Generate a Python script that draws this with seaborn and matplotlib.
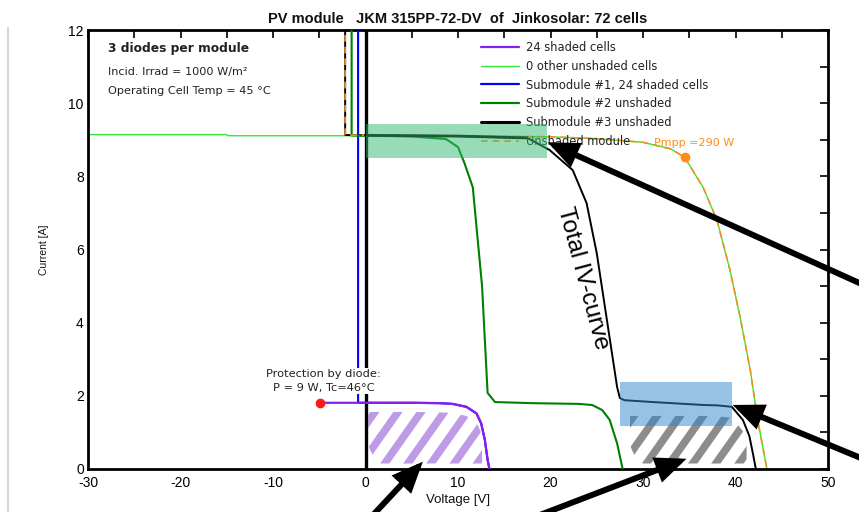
import numpy as np
import pandas as pd
import matplotlib
matplotlib.use("Agg")
import matplotlib.pyplot as plt
import seaborn as sns
from matplotlib.lines import Line2D
from matplotlib import font_manager

# ---------------- data ----------------
title = "PV module   JKM 315PP-72-DV  of  Jinkosolar: 72 cells"

# 24 shaded cells (purple)
shaded_v = [-4.9, 0, 5, 8, 9.4, 10.9, 12.0, 12.5, 12.9, 13.2, 13.4]
shaded_i = [1.81, 1.81, 1.81, 1.80, 1.78, 1.70, 1.52, 1.25, 0.80, 0.25, 0.0]

# 0 other unshaded cells (light green)
other_v = [-30, -15, -14.9, 0, 10, 20, 25, 30, 33, 34.5, 36.5, 38, 39.4, 40.5, 41.6, 42.4, 43.4]
other_i = [9.14, 9.14, 9.11, 9.11, 9.11, 9.08, 9.03, 8.93, 8.75, 8.52, 7.70, 6.80, 5.44, 4.15, 2.70, 1.34, 0.0]

# Submodule #1, 24 shaded cells (blue)
sub1_v = [-0.8, -0.8, 0, 5, 8, 9.4, 10.9, 12.0, 12.5, 12.9, 13.2, 13.4]
sub1_i = [12.5, 1.81, 1.81, 1.81, 1.80, 1.78, 1.70, 1.52, 1.25, 0.80, 0.25, 0.0]

# Submodule #2 unshaded (green)
sub2_v = [-1.5, -1.5, 0, 5, 8.7, 10.0, 10.7, 11.6, 12.6, 13.2, 14.0, 18, 23.0, 24.5, 25.6, 26.4, 27.2, 27.8]
sub2_i = [12.5, 9.12, 9.11, 9.09, 9.02, 8.80, 8.36, 7.70, 5.00, 2.08, 1.83, 1.80, 1.78, 1.75, 1.61, 1.34, 0.70, 0.0]

# Submodule #3 unshaded (black, thick)
sub3_v = [0, 5, 10, 17.4]
sub3_i = [9.12, 9.11, 9.10, 9.05]

# Unshaded module (orange)
unsh_v = [-2.2, -2.2, 0, 10, 20, 25, 30, 33, 34.5, 36.5, 38, 39.4, 40.5, 41.6, 42.4, 43.4]
unsh_i = [12.5, 9.13, 9.12, 9.11, 9.08, 9.03, 8.93, 8.75, 8.52, 7.70, 6.80, 5.44, 4.15, 2.70, 1.34, 0.0]

# Total IV-curve (black, thin)
total_v = [-2.2, -2.2, 0, 10, 17.5, 19.9, 22.4, 23.9, 25.0, 26.1, 27.2, 27.5, 28.0, 31.1, 36.5, 38.0, 39.6, 40.8, 41.5, 41.9, 42.2]
total_i = [12.5, 9.13, 9.12, 9.10, 9.05, 8.72, 8.17, 7.27, 5.90, 4.07, 2.24, 1.94, 1.88, 1.83, 1.75, 1.74, 1.70, 1.34, 0.90, 0.40, 0.0]

pmpp_v, pmpp_i, pmpp_w = 34.5, 8.52, 290
diode_v, diode_i = -4.9, 1.81

# highlighted boxes (V range, I range)
green_box_v, green_box_i = [0.0, 19.6], [8.5, 9.43]
blue_box_v, blue_box_i = [27.5, 39.6], [1.17, 2.38]

# hatched power areas (V range, top cap)
purple_area_v, purple_area_top = [0.3, 12.6], 1.6
gray_area_v, gray_area_top = [28.6, 41.2], 1.45

x_ticks = [-30, -20, -10, 0, 10, 20, 30, 40, 50]
y_ticks = [0, 2, 4, 6, 8, 10, 12]

# ---------------- style ----------------
sns.set_theme(style="white")
avail = {f.name for f in font_manager.fontManager.ttflist}
narrow = "Liberation Sans Narrow" if "Liberation Sans Narrow" in avail else "Liberation Sans"
plt.rcParams["font.family"] = ["DejaVu Sans"]

fig = plt.figure(figsize=(8.59, 5.12), dpi=100)
ax = fig.add_axes([88 / 859, 43 / 512, 740 / 859, 439 / 512])

def series(v, i):
    return pd.DataFrame({"V": v, "I": i})

def draw(v, i, color, lw, z, **kw):
    sns.lineplot(data=series(v, i), x="V", y="I", sort=False, estimator=None,
                 color=color, lw=lw, ax=ax, zorder=z, **kw)

# zero axis line
ax.axvline(0, color="black", lw=2.4, zorder=3)

draw(other_v, other_i, "#35E835", 1.0, 2)
draw(total_v, total_i, "black", 1.4, 3)
draw(unsh_v, unsh_i, "#FF8C1A", 1.2, 3.5, dashes=(4, 3))
draw(sub1_v, sub1_i, "#0000FF", 1.5, 3)
draw(sub2_v, sub2_i, "#008000", 1.5, 3)
draw(sub3_v, sub3_i, "black", 2.0, 3.6)
draw(shaded_v, shaded_i, "#8A1EF0", 1.6, 4)

ax.plot([diode_v], [diode_i], "o", color="#FF1A1A", ms=6, zorder=5)
ax.plot([pmpp_v], [pmpp_i], "o", color="#FF8C1A", ms=6, zorder=5)

# hatched areas
def hatch(vrange, top, curve_v, curve_i, offset, color):
    vg = np.linspace(vrange[0], vrange[1], 80)
    hi = np.minimum(np.interp(vg, curve_v, curve_i) - offset, top)
    lo = 0.15 + 0.5 * np.clip(1 - (vg - vrange[0]) / 1.5, 0, 1) ** 2
    poly = ax.fill_between(vg, lo, hi, facecolor="none", edgecolor="none")
    path = poly.get_paths()[0]
    dx = 6.7
    for x0 in np.arange(vrange[0] - dx, vrange[1] + 1, 2.5):
        ln, = ax.plot([x0, x0 + dx], [-0.2, 2.2], color=color, lw=5.5,
                      solid_capstyle="butt", zorder=2.5)
        ln.set_clip_path(path, ax.transData)

hatch(purple_area_v, purple_area_top, shaded_v, shaded_i, 0.25, "#BE9BE6")
hatch(gray_area_v, gray_area_top, total_v, total_i, 0.3, "#8C8C8C")

# boxes
ax.fill_between(green_box_v, green_box_i[0], green_box_i[1], color="#33BB70",
                alpha=0.5, lw=0, zorder=6)
ax.fill_between(blue_box_v, blue_box_i[0], blue_box_i[1], color="#2D87CD",
                alpha=0.5, lw=0, zorder=6)

# legend
handles = [
    Line2D([], [], color="#8A1EF0", lw=1.6),
    Line2D([], [], color="#35E835", lw=1.0),
    Line2D([], [], color="#0000FF", lw=1.6),
    Line2D([], [], color="#008000", lw=1.6),
    Line2D([], [], color="black", lw=2.2),
    Line2D([], [], color="#FF8C1A", lw=1.2, dashes=(4, 3)),
]
labels = ["24 shaded cells", "0 other unshaded cells", "Submodule #1, 24 shaded cells",
          "Submodule #2 unshaded", "Submodule #3 unshaded", "Unshaded module"]
leg = ax.legend(handles, labels, loc="upper left", bbox_to_anchor=(0.531, 0.975),
                frameon=False, fontsize=8.3, handlelength=3.3, handletextpad=0.6,
                labelspacing=0.5, borderaxespad=0, borderpad=0)
for t in leg.get_texts():
    t.set_color("#222222")
leg.set_zorder(4)

# texts
ax.text(0.027, 0.958, "3 diodes per module", transform=ax.transAxes, fontsize=8.8,
        fontweight="bold", va="center", color="#222222")
ax.text(0.027, 0.905, "Incid. Irrad = 1000 W/m²", transform=ax.transAxes, fontsize=8.1,
        va="center", color="#222222")
ax.text(0.027, 0.862, "Operating Cell Temp = 45 °C", transform=ax.transAxes, fontsize=8.1,
        va="center", color="#222222")
ax.text(-4.5, 2.41, "Protection by diode:\nP = 9 W, Tc=46°C", ha="center", va="center",
        fontsize=8.2, color="#222222", linespacing=1.45,
        bbox=dict(facecolor="white", edgecolor="none", pad=1.0), zorder=4.5)
ax.text(pmpp_v - 3.3, pmpp_i + 0.38, f"Pmpp ={pmpp_w} W", color="#FF8C1A", fontsize=8.0,
        va="center", ha="left")
ax.text(23.5, 5.22, "Total IV-curve", rotation=-75, ha="center", va="center",
        fontsize=17.5, family="Liberation Sans", color="black", rotation_mode="anchor")

# arrows
ap = dict(arrowstyle="-|>,head_length=0.75,head_width=0.32", lw=4.3, color="black",
          shrinkA=0, shrinkB=0, mutation_scale=20, joinstyle="miter")
for tip, tail in [((19.7, 8.93), (1.01, 0.44)), ((39.7, 1.75), (1.01, 0.10)),
                  ((34.7, 0.28), (0.622, -0.01)), ((6.2, 0.2), (0.432, -0.01))]:
    ax.annotate("", xy=tip, xycoords="data", xytext=tail, textcoords="figure fraction",
                arrowprops=ap, annotation_clip=False, zorder=7)

# axes
ax.set_xlim(-30, 50)
ax.set_ylim(0, 12)
ax.set_xticks(x_ticks)
ax.set_xticks(np.arange(-25, 50, 10), minor=True)
ax.set_yticks(y_ticks)
ax.set_yticks(np.arange(1, 12, 2), minor=True)
ax.set_xticklabels([str(t) for t in x_ticks], family=narrow, fontsize=10)
ax.set_yticklabels([str(t) for t in y_ticks], family=narrow, fontsize=10)
ax.tick_params(which="both", direction="in", top=True, right=True, length=6,
               width=1.2, colors="black", pad=3)
ax.tick_params(axis="x", which="both", pad=5)
for s in ax.spines.values():
    s.set_linewidth(2.0)
    s.set_color("black")
ax.set_xlabel("Voltage [V]", family=narrow, fontsize=9.5, labelpad=3, color="#111111")
ax.set_ylabel("Current [A]", family=narrow, fontsize=7.5, labelpad=14, color="#111111")
ax.set_title(title, family=narrow, fontsize=10.5, fontweight="bold", pad=5, color="#111111")

# page border on left
fig.add_artist(Line2D([8 / 859, 8 / 859], [0, 484 / 512], transform=fig.transFigure,
                      color="#D5D5D5", lw=1.5))

fig.savefig("out.png", dpi=100)
